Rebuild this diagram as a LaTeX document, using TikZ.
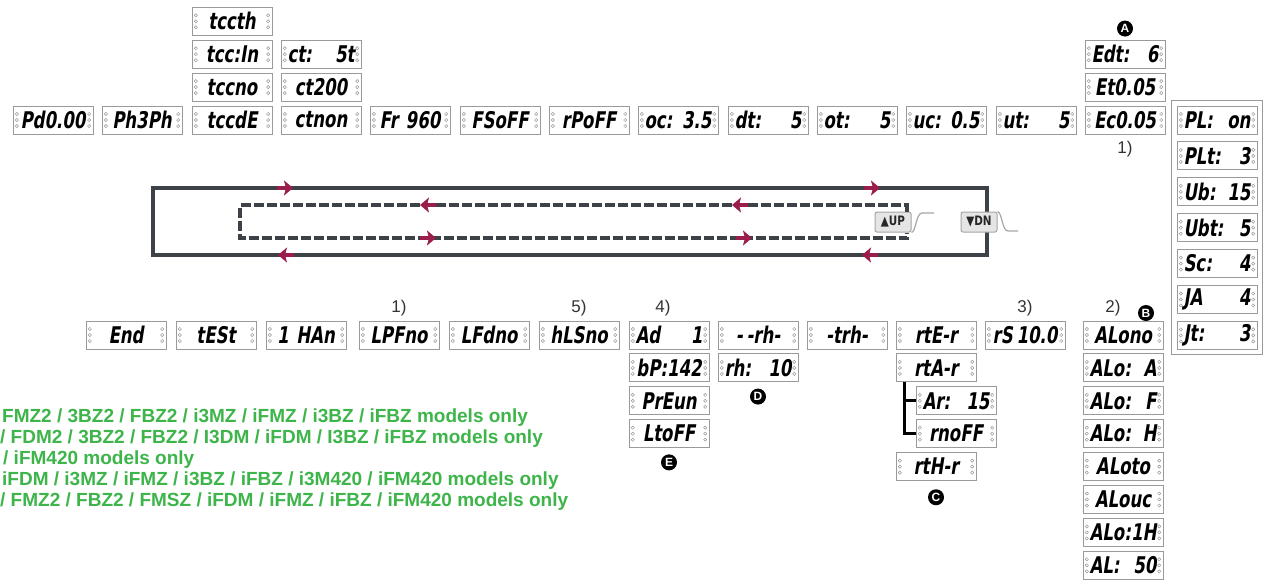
\documentclass[tikz,border=0pt]{standalone}
\usepackage{fontspec}
\setmainfont{Liberation Sans}
\newfontfamily\lcdfont[FakeStretch=0.72,FakeSlant=0.16]{DejaVu Sans}
\newfontfamily\keyfont[FakeStretch=0.8]{DejaVu Sans}
\usetikzlibrary{arrows.meta,positioning,fit}
\definecolor{loopgrey}{HTML}{3C4247}
\definecolor{flowred}{HTML}{9B1D4C}
\definecolor{modelgreen}{HTML}{3DB54A}
\definecolor{lcdframe}{HTML}{9A9A9A}

\tikzset{
  lcd/.style={draw=lcdframe, line width=0.9pt, fill=white, minimum width=80pt,
    minimum height=28pt, inner sep=0pt, text width=67pt, align=center,
    font=\lcdfont\bfseries\fontsize{23}{23}\selectfont,
    path picture={
      \foreach \dy in {-6,0,6} {
        \draw[lcdframe, line width=0.5pt] ([xshift=3.8pt,yshift=\dy pt]path picture bounding box.west) circle (1.6pt);
        \draw[lcdframe, line width=0.5pt] ([xshift=-3.8pt,yshift=\dy pt]path picture bounding box.east) circle (1.6pt);
      }
    }},
  badge/.style={circle, fill=black, text=white, inner sep=0pt, minimum size=16pt,
    font=\bfseries\fontsize{12}{12}\selectfont},
  note/.style={inner sep=0pt, text=black!80, font=\fontsize{17}{17}\selectfont},
  model/.style={anchor=west, inner sep=0pt, text=modelgreen,
    font=\bfseries\fontsize{19}{19}\selectfont},
  loopline/.style={draw=loopgrey, line width=4pt},
  loopdash/.style={draw=loopgrey, line width=4pt, dash pattern=on 10pt off 3pt},
  flow/.style={flowred, line width=4pt, -{Stealth[length=9pt,width=15pt,inset=2pt]}},
  keycap/.style={draw=gray!70, fill=gray!20, rounded corners=2pt, line width=1pt,
    minimum width=36pt, minimum height=20pt, inner sep=0pt,
    font=\keyfont\bfseries\fontsize{13}{13}\selectfont, text=black!85},
  keylip/.style={draw=gray!70, line width=1.2pt},
  bracket/.style={draw=black, line width=3pt},
}

\begin{document}
\begin{tikzpicture}[x=1pt, y=-1pt, node distance=4pt]
\useasboundingbox[fill=white] (0,0) rectangle (1269,584);

% main row
\node[lcd] (pd) at (53,120) {Pd0.00};
\node[lcd] (ph) at (142,120) {Ph3Ph};
\node[lcd] (tccde) at (232,120) {tccdE};
\node[lcd] (ctnon) at (321,120) {ctnon};
\node[lcd] (fr) at (410,120) {Fr 960};
\node[lcd] (fs) at (500,120) {FSoFF};
\node[lcd] (rp) at (589,120) {rPoFF};
\node[lcd] (oc) at (678,120) {oc:\hfill 3.5};
\node[lcd] (dt) at (768,120) {dt:\hfill 5};
\node[lcd] (ot) at (857,120) {ot:\hfill 5};
\node[lcd] (uc) at (946,120) {uc:\hfill 0.5};
\node[lcd] (ut) at (1036,120) {ut:\hfill 5};
\node[lcd] (ec) at (1125,120) {Ec0.05};

% stacks above
\node[lcd, above=of tccde] (tccno) {tccno};
\node[lcd, above=of tccno] (tccin) {tcc:In};
\node[lcd, above=of tccin] (tccth) {tccth};
\node[lcd, above=of ctnon] (cttwo) {ct200};
\node[lcd, above=of cttwo] (ctst) {ct:\hfill 5t};
\node[lcd, above=of ec] (et) {Et0.05};
\node[lcd, above=of et] (edt) {Edt:\hfill 6};
\node[badge, above=3pt of edt] (bada) {A};
\node[note, below=7pt of ec] (noteec) {1)};

% side panel
\node[lcd] (pl) at (1217,120) {PL:\hfill on};
\node[lcd, below=7pt of pl] (plt) {PLt:\hfill 3};
\node[lcd, below=7pt of plt] (ub) {Ub:\hfill 15};
\node[lcd, below=7pt of ub] (ubt) {Ubt:\hfill 5};
\node[lcd, below=7pt of ubt] (sc) {Sc:\hfill 4};
\node[lcd, below=7pt of sc] (ja) {JA\hfill 4};
\node[lcd, below=7pt of ja] (jt) {Jt:\hfill 3};
\node[draw=lcdframe, line width=0.8pt, inner sep=5pt, fit=(pl)(jt)] (panel) {};

% loop
\coordinate (outerTL) at (153,188);
\coordinate (outerBR) at (987,255);
\coordinate (innerTR) at (907,205);
\coordinate (innerTL) at (240,205);
\coordinate (innerBL) at (240,238);
\coordinate (innerBR) at (907,238);
\draw[loopline] (outerTL) rectangle (outerBR);
\node[keycap] (up) at (893,222) {▲UP};
\node[keycap] (dn) at (979,222) {▼DN};
\draw[keylip] (up.south east) .. controls (916,232) and (916,213) .. (922,213) -- (934,213);
\draw[keylip] (dn.north east) .. controls (1002,212) and (1002,231) .. (1008,231) -- (1018,231);
\draw[loopdash] (up.north -| innerTR) -- (innerTR) -- (innerTL) -- (innerBL) -- (innerBR) -- (up.south -| innerBR);
\draw[flow] (277,188) -- (293,188);
\draw[flow] (864,188) -- (880,188);
\draw[flow] (436,205) -- (420,205);
\draw[flow] (748,205) -- (732,205);
\draw[flow] (420,238) -- (436,238);
\draw[flow] (736,238) -- (752,238);
\draw[flow] (294,255) -- (278,255);
\draw[flow] (878,255) -- (862,255);

% lower row
\node[lcd] (endd) at (126,335) {End};
\node[lcd] (test) at (216,335) {tESt};
\node[lcd] (han) at (306,335) {1 HAn};
\node[lcd] (lpf) at (399,335) {LPFno};
\node[lcd] (lfd) at (489,335) {LFdno};
\node[lcd] (hls) at (579,335) {hLSno};
\node[lcd] (ad) at (669,335) {Ad\hfill 1};
\node[lcd] (rhh) at (758,335) {-\,-rh-};
\node[lcd] (trh) at (847,335) {-trh-};
\node[lcd] (rte) at (936,335) {rtE-r};
\node[lcd] (rs) at (1025,335) {\mbox{rS\,10.0}};
\node[lcd] (alo) at (1123,335) {ALono};

\node[note] (notelpf) at (399,308) {1)};
\node[note] (notehls) at (579,308) {5)};
\node[note] (notead) at (663,308) {4)};
\node[note] (noters) at (1025,308) {3)};
\node[note] (notealo) at (1113,308) {2)};
\node[badge] (badb) at (1146,313) {B};

% stacks below
\node[lcd, below=of ad] (bp) {bP:142};
\node[lcd, below=of bp] (preun) {PrEun};
\node[lcd, below=of preun] (ltoff) {LtoFF};
\node[badge, below=6pt of ltoff] (bade) {E};
\node[lcd, below=of rhh] (rh) {rh:\hfill 10};
\node[badge, below=6pt of rh] (badd) {D};
\node[lcd, below=of rte] (rta) {rtA-r};
\node[lcd, below=of rta, xshift=20pt] (ar) {Ar:\hfill 15};
\node[lcd, below=of ar] (rnoff) {rnoFF};
\node[lcd, below=of rnoff, xshift=-20pt] (rth) {rtH-r};
\node[badge, below=8pt of rth] (badc) {C};
\draw[bracket] ([xshift=9pt]rta.south west) |- (ar.west);
\draw[bracket] ([xshift=9pt]rta.south west) |- (rnoff.west);
\node[lcd, below=of alo] (aloa) {ALo:\hfill A};
\node[lcd, below=of aloa] (alof) {ALo:\hfill F};
\node[lcd, below=of alof] (aloh) {ALo:\hfill H};
\node[lcd, below=of aloh] (aloto) {ALoto};
\node[lcd, below=of aloto] (alouc) {ALouc};
\node[lcd, below=of alouc] (aloih) {ALo:\hfill 1H};
\node[lcd, below=of aloih] (al) {AL:\hfill 50};

% model notes
\node[model] (modela) at (2,418) {FMZ2 / 3BZ2 / FBZ2 / i3MZ / iFMZ / i3BZ / iFBZ models only};
\node[model] (modelb) at (0,439) {/ FDM2 / 3BZ2 / FBZ2 / I3DM / iFDM / I3BZ / iFBZ models only};
\node[model] (modelc) at (3,460) {/ iFM420 models only};
\node[model] (modeld) at (2,481) {iFDM / i3MZ / iFMZ / i3BZ / iFBZ / i3M420 / iFM420 models only};
\node[model] (modele) at (0,502) {/ FMZ2 / FBZ2 / FMSZ / iFDM / iFMZ / iFBZ / iFM420 models only};
\end{tikzpicture}
\end{document}
